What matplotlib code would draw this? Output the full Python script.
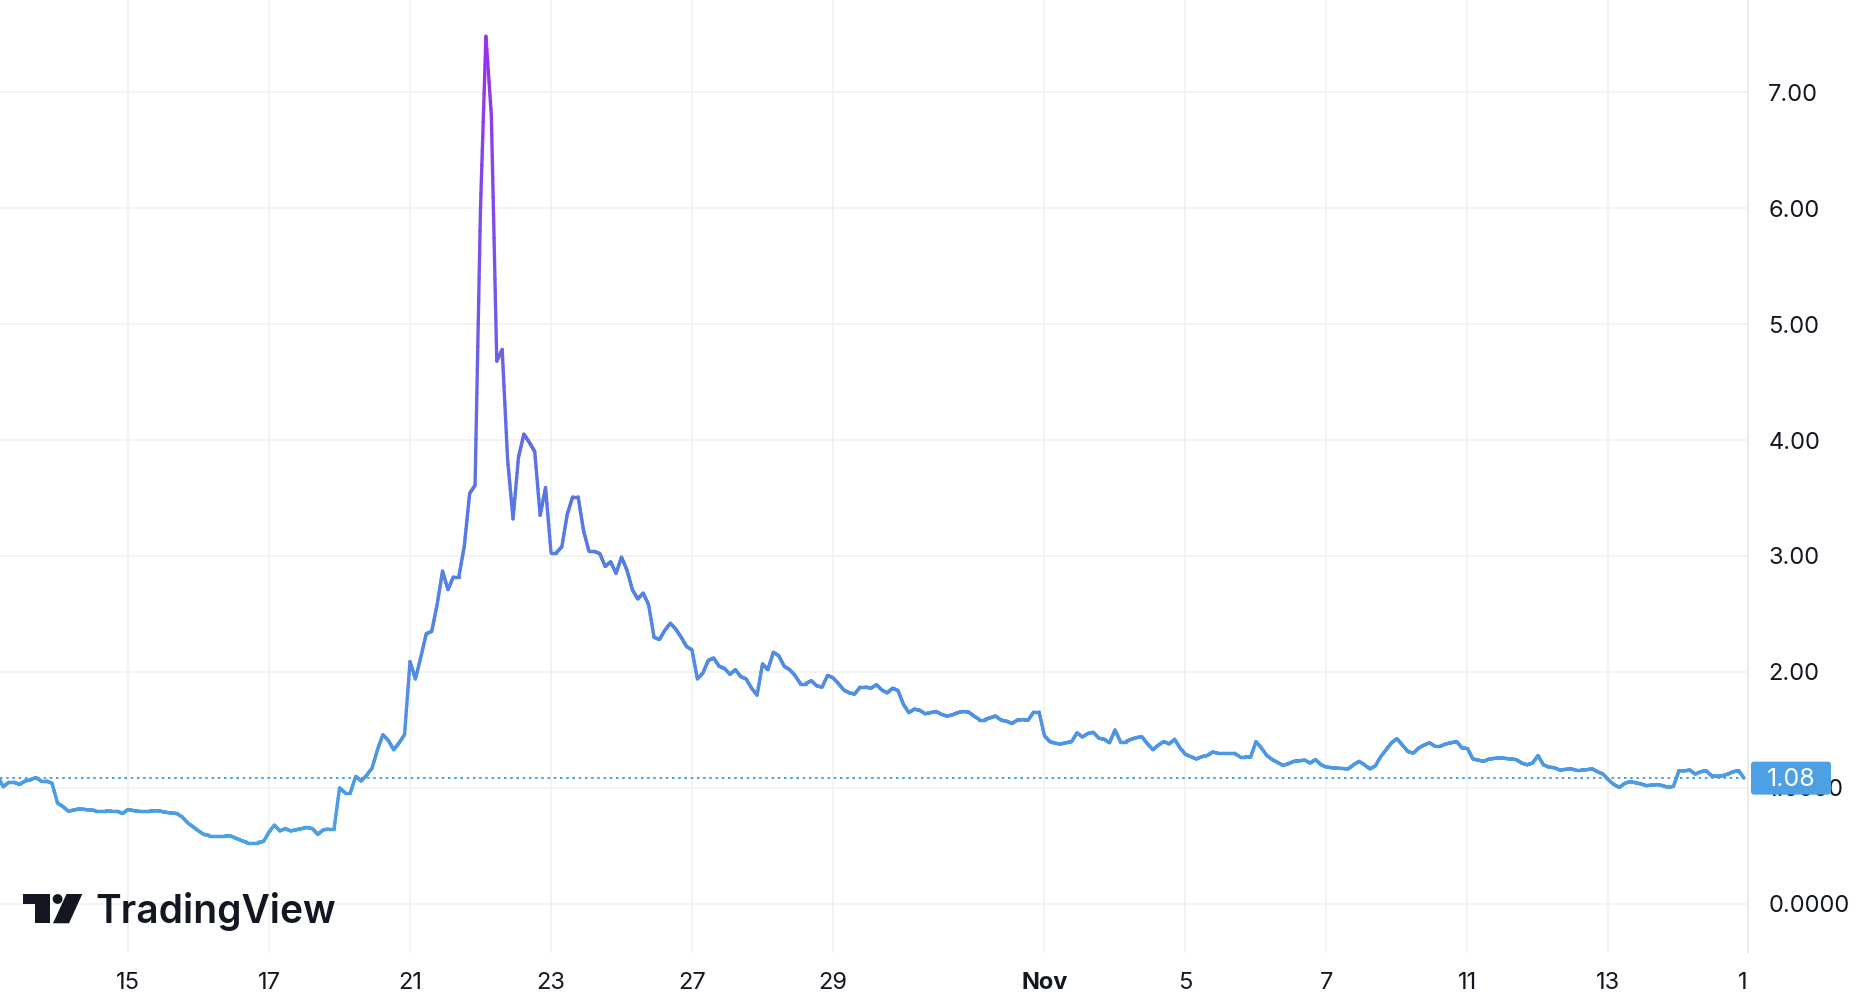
import numpy as np
import matplotlib
matplotlib.use("Agg")
import matplotlib.pyplot as plt
from matplotlib.collections import LineCollection
from matplotlib.colors import LinearSegmentedColormap, Normalize
from matplotlib.patches import Rectangle, Polygon, Circle, FancyBboxPatch

# ---------------- data ----------------
values = [
    1.10, 1.01, 1.05, 1.05, 1.03, 1.06, 1.07, 1.09, 1.06, 1.06,
    1.04, 0.87, 0.84, 0.80, 0.81, 0.82, 0.815, 0.81, 0.805, 0.805,
    0.805, 0.80, 0.80, 0.78, 0.815, 0.805, 0.80, 0.80, 0.80, 0.805,
    0.80, 0.79, 0.785, 0.78, 0.75, 0.70, 0.665, 0.63, 0.60, 0.59,
    0.59, 0.59, 0.59, 0.585, 0.565, 0.545, 0.53, 0.53, 0.53, 0.54,
    0.62, 0.68, 0.63, 0.65, 0.63, 0.64, 0.65, 0.66, 0.65, 0.60,
    0.64, 0.645, 0.645, 1.00, 0.96, 0.96, 1.10, 1.06, 1.11, 1.17,
    1.33, 1.46, 1.41, 1.33, 1.39, 1.46, 2.09, 1.94, 2.13, 2.33,
    2.35, 2.58, 2.87, 2.71, 2.82, 2.82, 3.08, 3.54, 3.61, 6.00,
    7.48, 6.80, 4.68, 4.78, 3.83, 3.32, 3.85, 4.05, 3.98, 3.90,
    3.35, 3.59, 3.03, 3.03, 3.08, 3.36, 3.51, 3.51, 3.22, 3.04,
    3.04, 3.02, 2.91, 2.95, 2.85, 2.99, 2.88, 2.71, 2.63, 2.68,
    2.58, 2.30, 2.28, 2.36, 2.42, 2.37, 2.30, 2.22, 2.19, 1.94,
    1.99, 2.10, 2.12, 2.05, 2.03, 1.98, 2.02, 1.96, 1.94, 1.86,
    1.80, 2.07, 2.02, 2.17, 2.14, 2.05, 2.02, 1.97, 1.90, 1.90,
    1.925, 1.88, 1.87, 1.97, 1.95, 1.90, 1.845, 1.82, 1.81, 1.87,
    1.87, 1.86, 1.89, 1.845, 1.82, 1.86, 1.84, 1.72, 1.65, 1.68,
    1.67, 1.64, 1.65, 1.66, 1.635, 1.62, 1.63, 1.65, 1.66, 1.655,
    1.62, 1.59, 1.59, 1.605, 1.62, 1.585, 1.576, 1.556, 1.585, 1.59,
    1.585, 1.655, 1.655, 1.45, 1.40, 1.385, 1.38, 1.39, 1.40, 1.475,
    1.44, 1.47, 1.48, 1.43, 1.42, 1.39, 1.50, 1.40, 1.40, 1.42,
    1.435, 1.44, 1.38, 1.33, 1.37, 1.40, 1.38, 1.42, 1.345, 1.29,
    1.27, 1.25, 1.27, 1.28, 1.31, 1.30, 1.30, 1.30, 1.30, 1.27,
    1.27, 1.265, 1.40, 1.345, 1.28, 1.245, 1.22, 1.195, 1.21, 1.23,
    1.235, 1.24, 1.215, 1.245, 1.20, 1.18, 1.175, 1.17, 1.168, 1.165,
    1.20, 1.23, 1.20, 1.165, 1.19, 1.27, 1.33, 1.39, 1.425, 1.37,
    1.315, 1.30, 1.345, 1.37, 1.39, 1.36, 1.36, 1.38, 1.39, 1.40,
    1.345, 1.34, 1.25, 1.24, 1.23, 1.25, 1.255, 1.26, 1.255, 1.25,
    1.245, 1.215, 1.20, 1.215, 1.28, 1.20, 1.18, 1.175, 1.155, 1.16,
    1.165, 1.155, 1.155, 1.158, 1.165, 1.14, 1.12, 1.07, 1.03, 1.005,
    1.04, 1.055, 1.045, 1.035, 1.02, 1.025, 1.03, 1.02, 1.005, 1.015,
    1.15, 1.148, 1.155, 1.12, 1.14, 1.15, 1.105, 1.10, 1.105, 1.12,
    1.14, 1.15, 1.085,
]
x_tick_pos = [24, 50, 76, 102, 128, 154, 193, 219, 245, 271, 297]
x_tick_labels = ["15", "17", "21", "23", "27", "29", "Nov", "5", "7", "11", "13"]
x_edge_tick_pos = [321.7]
x_edge_tick_labels = ["1"]
y_tick_vals = [0, 1, 2, 3, 4, 5, 6, 7]
y_tick_labels = ["0.0000", "1.0000", "2.00", "3.00", "4.00", "5.00", "6.00", "7.00"]
last_label = "1.08"
brand = "TradingView"

# ---------------- style ----------------
W, H = 1875, 1005
FONT = ["Inter", "DejaVu Sans"]
plt.rcParams["font.family"] = FONT
TXT = "#131722"
GRID = "#f0f1f4"
BLUE = "#4da0e3"

fig = plt.figure(figsize=(W / 100, H / 100), dpi=100)
fig.patch.set_facecolor("white")
ax_bottom_px = 953
ax = fig.add_axes([0, 1 - ax_bottom_px / H, 1748 / W, ax_bottom_px / H])
ax.set_facecolor("white")

x = np.arange(len(values), dtype=float)
y = np.array(values, dtype=float)

# gradient line (segments split finely only for colouring)
cmap = LinearSegmentedColormap.from_list(
    "tv", [(0.0, "#4aa3e2"), (0.43, "#5876e6"), (1.0, "#9a2ff0")])
norm = Normalize(0.5, 7.5)
n_sub = 12
segs, cvals = [], []
for k in range(len(x) - 1):
    t = np.linspace(0, 1, n_sub + 1)
    xs = x[k] + (x[k + 1] - x[k]) * t
    ys = y[k] + (y[k + 1] - y[k]) * t
    for j in range(n_sub):
        segs.append([(xs[j], ys[j]), (xs[j + 1], ys[j + 1])])
        cvals.append(0.5 * (ys[j] + ys[j + 1]))
lc = LineCollection(segs, cmap=cmap, norm=norm, linewidths=2.4,
                    capstyle="round", joinstyle="round", zorder=3)
lc.set_array(np.array(cvals))
ax.add_collection(lc)

# last value dotted line
ax.axhline(y[-1], color=BLUE, lw=1.4, linestyle=(0, (1.3, 1.9)), zorder=2)

ax.set_xlim(0.396, 322.73)
ax.set_ylim((904 - ax_bottom_px) / 116.0, 904 / 116.0)

ax.set_xticks(x_tick_pos, x_tick_labels)
ax.set_xticks(x_edge_tick_pos, x_edge_tick_labels, minor=True)
ax.set_yticks(y_tick_vals, y_tick_labels)
ax.yaxis.tick_right()
ax.grid(True, which="major", color=GRID, lw=1.2, zorder=0)
ax.set_axisbelow(True)
for lab in ax.get_xticklabels():
    if lab.get_text() == "Nov":
        lab.set_fontweight("bold")
ax.tick_params(axis="x", which="both", length=0, pad=13.5, labelsize=17, labelcolor=TXT)
ax.tick_params(axis="y", length=0, pad=14.5, labelsize=17, labelcolor=TXT)
for s in ["top", "left", "bottom"]:
    ax.spines[s].set_visible(False)
ax.spines["right"].set_color("#e6e8ec")
ax.spines["right"].set_linewidth(1.2)

# overlay in pixel coordinates for badge and logo
ov = fig.add_axes([0, 0, 1, 1], zorder=10)
ov.set_xlim(0, W)
ov.set_ylim(H, 0)
ov.axis("off")
ov.patch.set_alpha(0)

fig.canvas.draw()
ypix = H - ax.transData.transform((0, y[-1]))[1]
badge = FancyBboxPatch((1751, ypix - 16.5), 80, 33,
                       boxstyle="round,pad=0,rounding_size=3",
                       fc=BLUE, ec="none")
ov.add_patch(badge)
ov.text(1791, ypix + 1, last_label, color="white", fontsize=18,
        ha="center", va="center")

# TradingView logo
K = "#131722"
ov.add_patch(Rectangle((22.7, 894), 27.3, 9.6, fc=K, ec="none"))
ov.add_patch(Rectangle((35.2, 894), 14.8, 29.3, fc=K, ec="none"))
ov.add_patch(Circle((57.6, 899.0), 4.9, fc=K, ec="none"))
ov.add_patch(Polygon([(66.5, 894), (82.3, 894), (69.0, 923.3), (53.0, 923.3)],
                     closed=True, fc=K, ec="none"))
ov.text(95.5, 923.3, brand, color=K, fontsize=28, fontweight="semibold",
        ha="left", va="baseline")

fig.savefig("out.png", dpi=100, facecolor="white")
